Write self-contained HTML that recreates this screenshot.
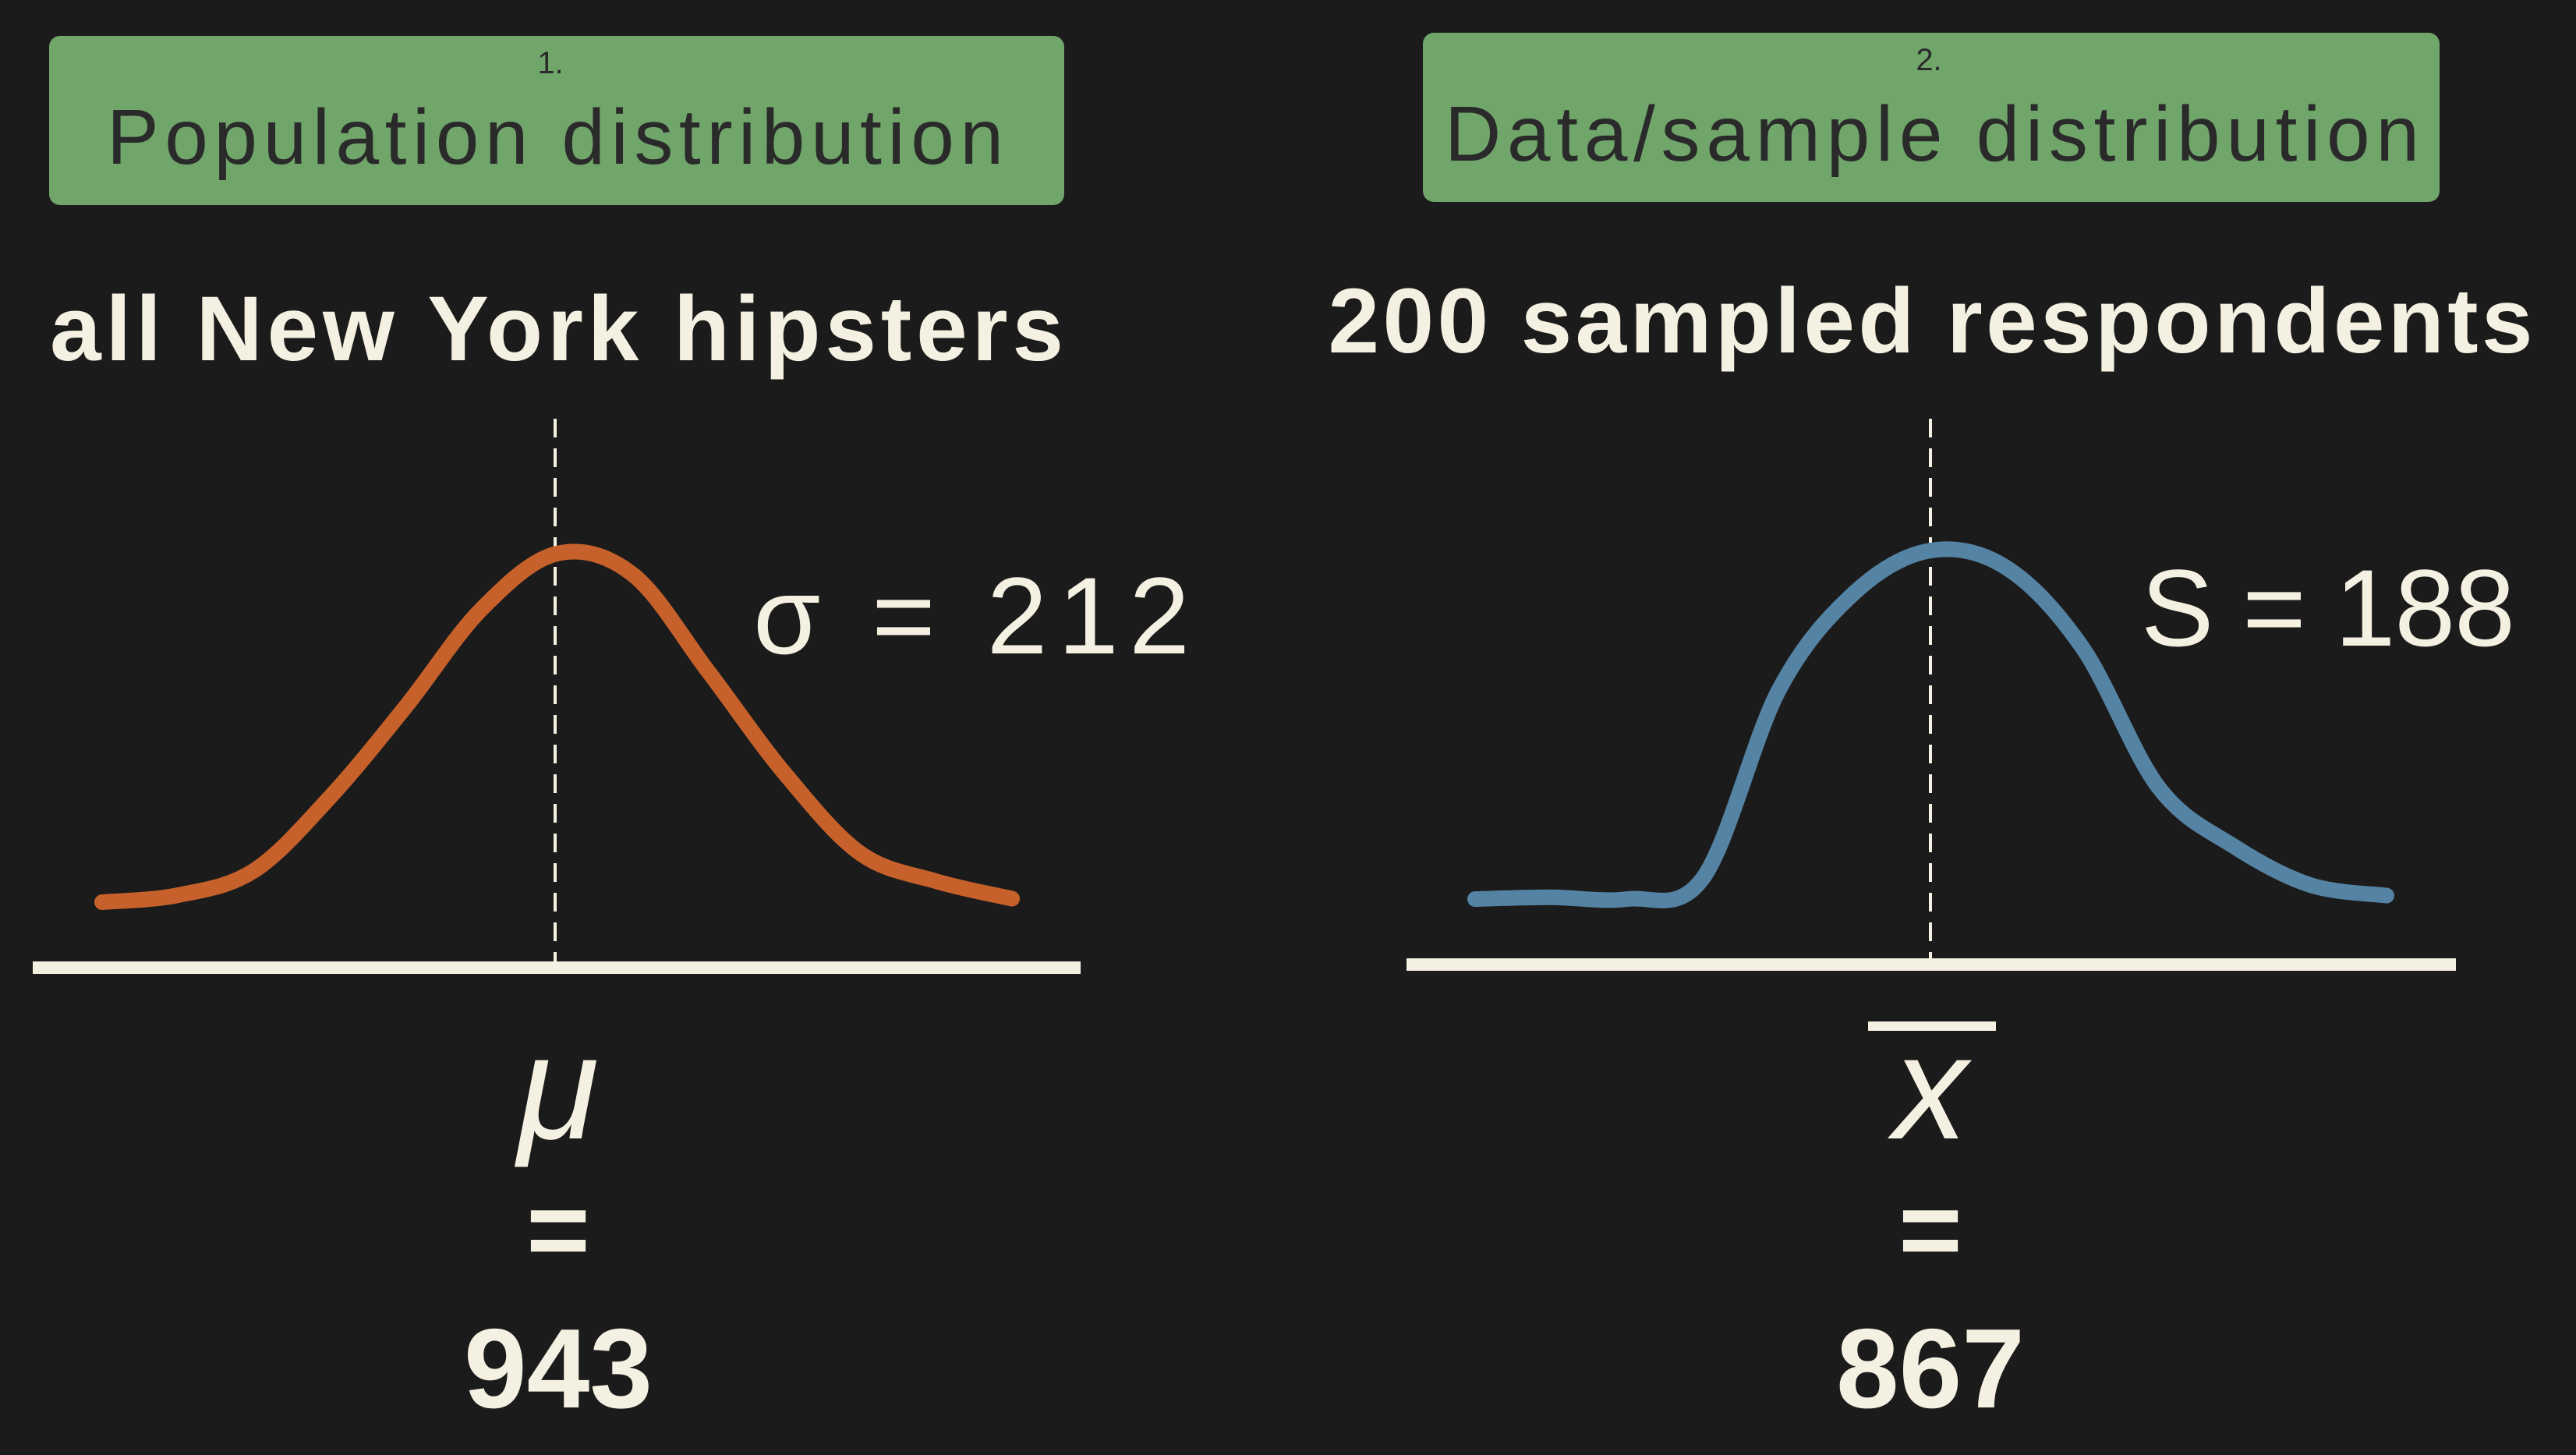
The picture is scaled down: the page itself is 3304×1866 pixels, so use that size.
<!DOCTYPE html>
<html><head><meta charset="utf-8"><style>
html,body{margin:0;padding:0;background:#1b1b1b;}
svg{display:block;}
text{font-family:"Liberation Sans",sans-serif;}
</style></head><body>
<svg id="chart" width="3304" height="1866" viewBox="0 0 3304 1866">
<rect width="3304" height="1866" fill="#1b1b1b"/>
<g>
<rect x="63" y="46" width="1302" height="217" rx="14" fill="#71a66b"/>
<text x="706" y="94" font-size="40" fill="#2a2a2a" text-anchor="middle">1.</text>
<text x="712" y="210" font-size="100" fill="#2a2a2a" text-anchor="middle" textLength="1150">Population distribution</text>
<text x="714" y="462" font-size="118" font-weight="bold" fill="#f5f1e2" text-anchor="middle" textLength="1300">all New York hipsters</text>
<text x="1246" y="838" font-size="140" fill="#f5f1e2" text-anchor="middle" textLength="560">σ = 212</text>
<text x="716" y="1460" font-size="190" font-style="italic" fill="#f5f1e2" text-anchor="middle">μ</text>
<text x="716" y="1625" font-size="140" font-weight="bold" fill="#f5f1e2" text-anchor="middle">=</text>
<text x="716" y="1805" font-size="145" font-weight="bold" fill="#f5f1e2" text-anchor="middle">943</text>
</g>
<g>
<rect x="1825" y="42" width="1304" height="217" rx="14" fill="#71a66b"/>
<text x="2474" y="90" font-size="40" fill="#2a2a2a" text-anchor="middle">2.</text>
<text x="2478" y="206" font-size="100" fill="#2a2a2a" text-anchor="middle" textLength="1250">Data/sample distribution</text>
<text x="2476" y="452" font-size="118" font-weight="bold" fill="#f5f1e2" text-anchor="middle" textLength="1545">200 sampled respondents</text>
<text x="2986" y="828" font-size="140" fill="#f5f1e2" text-anchor="middle" textLength="480">S = 188</text>
<text x="2476" y="1460" font-size="190" font-style="italic" fill="#f5f1e2" text-anchor="middle">x</text>
<line x1="2396" y1="1316" x2="2560" y2="1316" stroke="#f5f1e2" stroke-width="12"/>
<text x="2476" y="1625" font-size="140" font-weight="bold" fill="#f5f1e2" text-anchor="middle">=</text>
<text x="2476" y="1805" font-size="145" font-weight="bold" fill="#f5f1e2" text-anchor="middle">867</text>
</g>
<g id="marks"></g>
</svg>
<script>
const popDensity=[0,0.02,0.09,0.30,0.56,0.84,1.0,0.94,0.66,0.37,0.14,0.06,0.01];
const sampleDensity=[0,0.005,0,0.06,0.60,0.88,1.0,0.95,0.72,0.32,0.15,0.04,0.01];
const NS="http://www.w3.org/2000/svg";
const g=document.getElementById('marks');
function panel(vals,x0,x1,base,h,axisX0,axisX1,axisY,meanX,color,nm){
  const ax=document.createElementNS(NS,'line');
  ax.setAttribute('x1',axisX0);ax.setAttribute('x2',axisX1);ax.setAttribute('y1',axisY);ax.setAttribute('y2',axisY);
  ax.setAttribute('stroke','#f5f1e2');ax.setAttribute('stroke-width','16');
  
  
  g.appendChild(ax);
  const dl=document.createElementNS(NS,'line');
  dl.setAttribute('x1',meanX);dl.setAttribute('x2',meanX);dl.setAttribute('y1',537);dl.setAttribute('y2',axisY-8);
  dl.setAttribute('stroke','#f5f1e2');dl.setAttribute('stroke-width','4');dl.setAttribute('stroke-dasharray','24 14');
  
  
  g.appendChild(dl);
  const n=vals.length;
  const xs=i=>x0+(x1-x0)*i/(n-1), ys=v=>base-v*h;
  let d='M'+xs(0)+','+ys(vals[0]);
  for(let i=0;i<n-1;i++){
    const p0=[xs(Math.max(i-1,0)),ys(vals[Math.max(i-1,0)])],p1=[xs(i),ys(vals[i])],p2=[xs(i+1),ys(vals[i+1])],p3=[xs(Math.min(i+2,n-1)),ys(vals[Math.min(i+2,n-1)])];
    const c1=[p1[0]+(p2[0]-p0[0])/6,p1[1]+(p2[1]-p0[1])/6],c2=[p2[0]-(p3[0]-p1[0])/6,p2[1]-(p3[1]-p1[1])/6];
    d+=' C'+c1+' '+c2+' '+p2;
  }
  const p=document.createElementNS(NS,'path');
  p.setAttribute('d',d);p.setAttribute('fill','none');p.setAttribute('stroke',color);
  p.setAttribute('stroke-width','20');p.setAttribute('stroke-linecap','round');p.setAttribute('stroke-linejoin','round');
  
  
  g.appendChild(p);
}
panel(popDensity,131,1298,1157,447,42,1386,1241,712,'#c6612b','population');
panel(sampleDensity,1892,3061,1153,447,1804,3150,1237,2476,'#5583a3','sample');
</script>
</body></html>
